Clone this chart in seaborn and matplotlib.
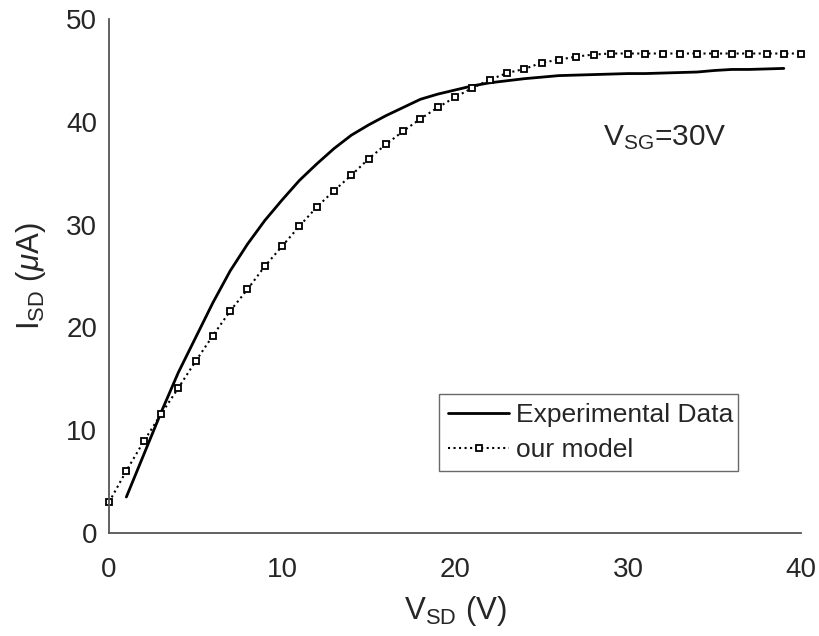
import numpy as np
import pandas as pd
import matplotlib
matplotlib.use("Agg")
import matplotlib.pyplot as plt
import seaborn as sns

# ---- data ----
exp_x = list(range(1, 40))
exp_y = [3.5, 7.6, 11.7, 15.6, 19.0, 22.4, 25.5, 28.1, 30.4, 32.4,
         34.3, 35.9, 37.4, 38.7, 39.7, 40.6, 41.4, 42.2, 42.7, 43.1,
         43.5, 43.8, 44.0, 44.2, 44.35, 44.5, 44.55, 44.6, 44.65, 44.7,
         44.7, 44.75, 44.8, 44.85, 45.0, 45.1, 45.1, 45.15, 45.2]

model_x = list(range(0, 41))
model_y = [3.0, 6.05, 8.9, 11.55, 14.1, 16.7, 19.2, 21.6, 23.7, 25.95,
           27.9, 29.85, 31.7, 33.3, 34.8, 36.4, 37.8, 39.1, 40.3, 41.4,
           42.4, 43.3, 44.1, 44.75, 45.15, 45.75, 46.05, 46.35, 46.55, 46.65,
           46.65, 46.65, 46.65, 46.65, 46.65, 46.65, 46.65, 46.65, 46.65, 46.65,
           46.65]

x_ticks = [0, 10, 20, 30, 40]
y_ticks = [0, 10, 20, 30, 40, 50]
series_labels = ["Experimental Data", "our model"]
annotation = r"V$_{\rm SG}$=30V"

sns.set_style("white")
plt.rcParams["font.family"] = ["Liberation Sans", "DejaVu Sans"]
plt.rcParams["mathtext.fontset"] = "custom"
plt.rcParams["mathtext.rm"] = "Liberation Sans"
plt.rcParams["mathtext.it"] = "Liberation Sans:italic"
plt.rcParams["mathtext.sf"] = "Liberation Sans"

fig = plt.figure(figsize=(8.2, 6.36), dpi=100)
ax = fig.add_axes([0.133, 0.162, 0.844, 0.808])

gray = "#262626"
sns.lineplot(x=exp_x, y=exp_y, ax=ax, color="black", lw=2.0,
             label=series_labels[0])
sns.lineplot(x=model_x, y=model_y, ax=ax, color="black", lw=1.5,
             linestyle=":", marker="s", markersize=4.6,
             markerfacecolor="white", markeredgecolor="black",
             markeredgewidth=1.3, label=series_labels[1], clip_on=False)

ax.set_xlim(0, 40)
ax.set_ylim(0, 50)
ax.set_xticks(x_ticks)
ax.set_yticks(y_ticks)
ax.tick_params(direction="in", length=5, width=1.2, colors="#555555",
               labelcolor=gray, labelsize=20)
ax.tick_params(axis="x", pad=17)
ax.tick_params(axis="y", pad=8.5)
for s in ["top", "right"]:
    ax.spines[s].set_visible(False)
for s in ["left", "bottom"]:
    ax.spines[s].set_color("#555555")
    ax.spines[s].set_linewidth(1.3)

ax.set_xlabel(r"V$_{\rm SD}$ (V)", fontsize=22.5, color=gray, labelpad=8)
ax.set_ylabel(r"I$_{\rm SD}$ ($\mu$A)", fontsize=22.5, color=gray, labelpad=13)

ax.text(28.55, 37.74, annotation, fontsize=21.5, color=gray,
        ha="left", va="baseline")

leg = ax.legend(loc="upper left", bbox_to_anchor=(0.477, 0.270, 0.432, 0.0),
                mode="expand", fontsize=19, frameon=True, fancybox=False,
                handlelength=2.3, handletextpad=0.25, borderpad=0.35,
                labelspacing=0.4, borderaxespad=0)
leg.get_frame().set_edgecolor("#444444")
leg.get_frame().set_linewidth(1.0)
for t in leg.get_texts():
    t.set_color(gray)

fig.savefig("out.png", dpi=100, facecolor="white")
